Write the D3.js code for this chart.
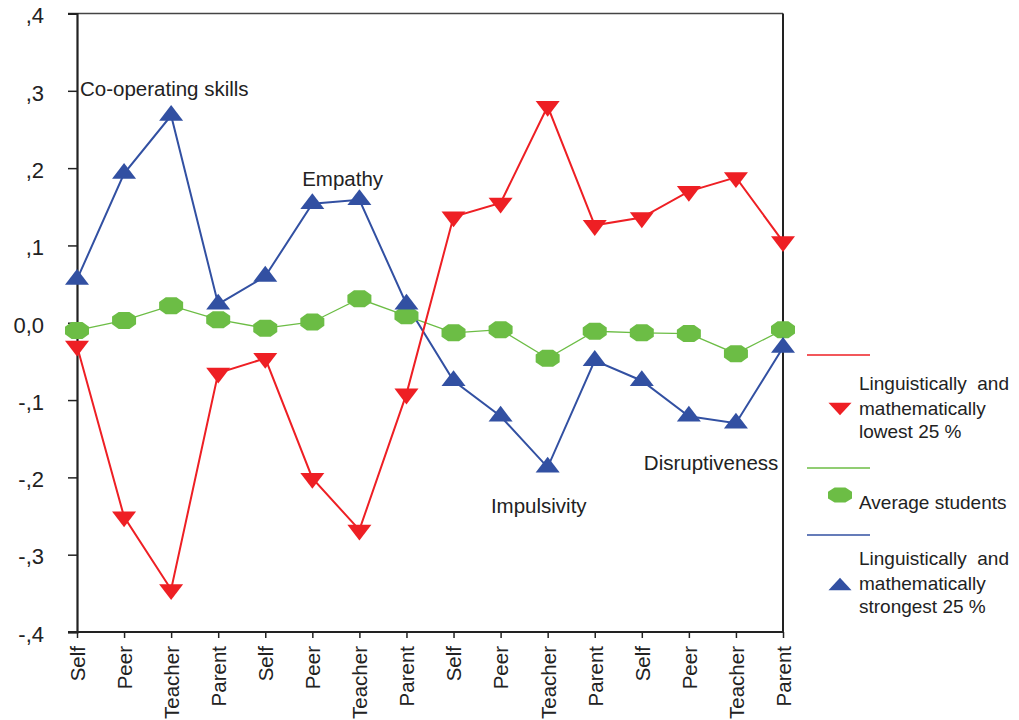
<!DOCTYPE html>
<html><head><meta charset="utf-8">
<script src="https://cdn.jsdelivr.net/npm/d3@7"></script>
<style>body{margin:0;background:#fff}svg{display:block}text{font-family:"Liberation Sans",Arial,sans-serif}</style>
</head><body>
<svg id="c" width="1019" height="720"></svg>
<script>
const categories = ["Self","Peer","Teacher","Parent","Self","Peer","Teacher","Parent","Self","Peer","Teacher","Parent","Self","Peer","Teacher","Parent"];
const lowest25 = [-0.030,-0.251,-0.345,-0.065,-0.046,-0.201,-0.268,-0.092,0.137,0.155,0.280,0.126,0.136,0.170,0.188,0.105];
const average = [-0.010,0.003,0.022,0.004,-0.007,0.001,0.031,0.009,-0.013,-0.009,-0.046,-0.011,-0.013,-0.014,-0.040,-0.009];
const strongest25 = [0.056,0.193,0.268,0.024,0.060,0.154,0.159,0.024,-0.075,-0.121,-0.187,-0.049,-0.075,-0.121,-0.130,-0.032];
const yTicks = [0.4,0.3,0.2,0.1,0,-0.1,-0.2,-0.3,-0.4];
const yTickLabels = [",4",",3",",2",",1","0,0","-,1","-,2","-,3","-,4"];
const annotations = [
  {text:"Co-operating skills", i:0.0, v:0.302},
  {text:"Empathy", i:4.72, v:0.186},
  {text:"Impulsivity", i:8.73, v:-0.237},
  {text:"Disruptiveness", i:11.98, v:-0.181}
];
const legendLabels = [["Linguistically  and","mathematically","lowest 25 %"],["Average students"],["Linguistically  and","mathematically","strongest 25 %"]];

const RED="#ee1f24", GREEN="#6cbd45", BLUE="#3250a2";
const svg = d3.select("#c");
const L=77, R=783, T=13.5, B=632;
const x = d3.scalePoint().domain(d3.range(categories.length)).range([L,R]);
const xl = d3.scaleLinear().domain([0,categories.length-1]).range([L,R]);
const y = d3.scaleLinear().domain([-0.4,0.4]).range([B,T]);

// frame
svg.append("line").attr("x1",68).attr("x2",R).attr("y1",y(0.4)).attr("y2",y(0.4)).attr("stroke","#444").attr("stroke-width",1.5);
svg.append("line").attr("x1",R).attr("x2",R).attr("y1",y(0.4)).attr("y2",B).attr("stroke","#222").attr("stroke-width",2);

// y axis
const ya = svg.append("g").attr("transform",`translate(${L},0)`)
  .call(d3.axisLeft(y).tickValues(yTicks).tickSize(9).tickFormat((d,i)=>yTickLabels[i]));
ya.select(".domain").attr("stroke","#222").attr("stroke-width",2.2);
ya.selectAll(".tick line").attr("stroke","#222").attr("stroke-width",1.5);
ya.selectAll(".tick text").attr("font-size",22).attr("fill","#222").attr("x",-33).attr("dy","0.42em").attr("font-family","Liberation Sans, Arial, sans-serif");

// x axis
const xa = svg.append("g").attr("transform",`translate(0,${B})`)
  .call(d3.axisBottom(x).tickSize(6).tickFormat(i=>categories[i]));
xa.select(".domain").attr("stroke","#222").attr("stroke-width",2).attr("d",`M68,0H${R}`);
xa.selectAll(".tick line").attr("stroke","#222").attr("stroke-width",1.5);
xa.selectAll(".tick text").attr("font-size",20.5).attr("fill","#222").attr("font-family","Liberation Sans, Arial, sans-serif")
  .attr("transform","rotate(-90)").attr("text-anchor","end").attr("x",-14).attr("y",0).attr("dy","0.36em");

// series
const line = d3.line().x((d,i)=>x(i)).y(d=>y(d));
const tri = d3.symbol().type(d3.symbolTriangle).size(160);
function octPath(w,h){
  const a=w/2,b=h/2,ca=a*0.45,cb=b*0.45;
  return `M${-ca},${-b}L${ca},${-b}L${a},${-cb}L${a},${cb}L${ca},${b}L${-ca},${b}L${-a},${cb}L${-a},${-cb}Z`;
}
const series = [
  {data:average,color:GREEN,w:1.3,type:"oct"},
  {data:strongest25,color:BLUE,w:2,type:"up"},
  {data:lowest25,color:RED,w:2,type:"down"}
];
series.forEach(s=>{
  svg.append("path").datum(s.data).attr("d",line).attr("fill","none").attr("stroke",s.color).attr("stroke-width",s.w);
});
series.forEach(s=>{
  const g = svg.append("g");
  s.data.forEach((v,i)=>{
    const p = g.append("path").attr("fill",s.color);
    if(s.type==="oct") p.attr("d",octPath(24,17)).attr("transform",`translate(${x(i)},${y(v)})`);
    else if(s.type==="up") p.attr("d",tri()).attr("transform",`translate(${x(i)},${y(v)}) scale(1.25,0.95)`);
    else p.attr("d",tri()).attr("transform",`translate(${x(i)},${y(v)}) rotate(180) scale(1.25,0.95)`);
  });
});

// annotations
annotations.forEach(a=>{
  svg.append("text").attr("x",xl(a.i)+3).attr("y",y(a.v)).attr("font-size",20.5).attr("fill","#222")
    .attr("dy","0.35em").text(a.text);
});

// legend
const lg = svg.append("g");
const legendItems = [
  {color:RED,type:"down",lineY:355,markY:407,textY:[383,408,431]},
  {color:GREEN,type:"oct",lineY:468,markY:495,textY:[502]},
  {color:BLUE,type:"up",lineY:535,markY:586,textY:[558,583,606]}
];
legendItems.forEach((it,k)=>{
  lg.append("line").attr("x1",807).attr("x2",870).attr("y1",it.lineY).attr("y2",it.lineY).attr("stroke",it.color).attr("stroke-width",1.3);
  const p = lg.append("path").attr("fill",it.color);
  if(it.type==="oct") p.attr("d",octPath(24,15)).attr("transform",`translate(840,${it.markY})`);
  else if(it.type==="up") p.attr("d",tri()).attr("transform",`translate(840,${it.markY}) scale(1.2,0.75)`);
  else p.attr("d",tri()).attr("transform",`translate(840,${it.markY}) rotate(180) scale(1.2,0.75)`);
  legendLabels[k].forEach((t,j)=>{
    lg.append("text").attr("x",859).attr("y",it.textY[j]).attr("dy","0.35em").attr("font-size",19).attr("fill","#222")
      .style("white-space","pre").text(t);
  });
});
</script>
</body></html>
